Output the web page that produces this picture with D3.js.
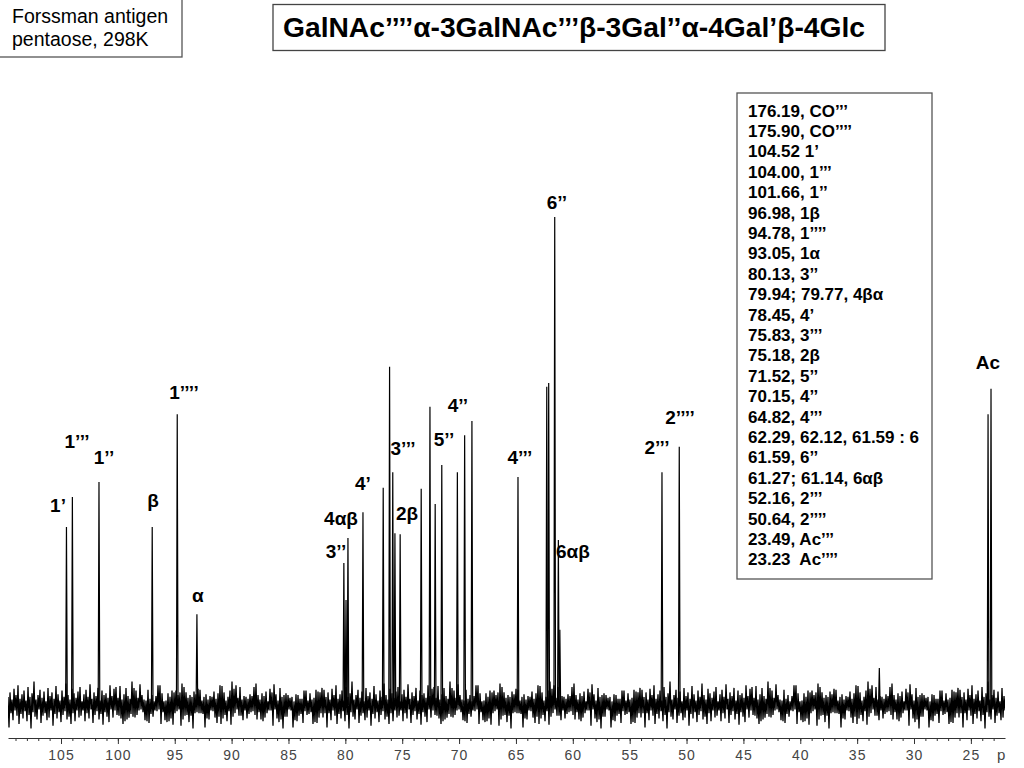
<!DOCTYPE html>
<html>
<head>
<meta charset="utf-8">
<script src="https://cdn.jsdelivr.net/npm/d3@7"></script>
<style>
  html, body { margin: 0; padding: 0; background: #fff; }
  svg { display: block; }
  text { font-family: "Liberation Sans", Arial, sans-serif; }
</style>
</head>
<body>
<svg id="chart" width="1024" height="768"></svg>
<script>
// peak positions (ppm) and heights (relative, tallest = 100)
const peakPpm = [
  104.52, 104.0, 101.66, 96.98, 94.78, 93.05,
  80.13, 79.94, 79.77, 78.45, 76.67, 76.11, 75.83, 75.64, 75.18,
  73.33, 72.56, 72.1, 71.52, 70.15, 69.51, 68.87,
  64.82, 62.29, 62.12, 61.59, 61.27, 61.14,
  52.16, 50.64, 33.05, 23.49, 23.23
];
const peakHeight = [
  36.5, 42.6, 45.7, 36.5, 59.6, 18.6,
  29.1, 21.5, 34.2, 39.5, 44.5, 69.3, 47.7, 35.2, 35.0,
  44.3, 61.1, 41.2, 49.2, 47.7, 55.3, 58.2,
  46.7, 65.2, 66.0, 100, 33.8, 15.4,
  47.7, 52.9, 7.6, 59.6, 64.8
];

// peak annotations: text, ppm, height of label centre
const peakLabels = ["1’", "1’’’", "1’’", "β", "1’’’’", "α", "3’’", "4αβ", "4’", "3’’’",
  "2β", "5’’", "4’’", "4’’’", "6’’", "6αβ", "2’’’", "2’’’’", "Ac"];
const labelPpm = [105.26, 103.59, 101.22, 96.91, 94.19, 92.96, 80.82, 80.38, 78.45, 74.93,
  74.58, 71.33, 70.1, 64.65, 61.4, 59.99, 52.6, 50.58, 23.51];
const labelHeight = [41.0, 54.1, 50.8, 42.0, 64.1, 22.5, 31.4, 38.3, 45.5, 52.5,
  39.3, 54.5, 61.5, 50.8, 103.1, 31.4, 52.7, 59.0, 70.3];

// assignment list in the box
const shiftList = [
  "176.19, CO’’’", "175.90, CO’’’’", "104.52 1’", "104.00, 1’’’", "101.66, 1’’",
  "96.98, 1β", "94.78, 1’’’’", "93.05, 1α", "80.13, 3’’", "79.94; 79.77, 4βα",
  "78.45, 4’", "75.83, 3’’’", "75.18, 2β", "71.52, 5’’", "70.15, 4’’", "64.82, 4’’’",
  "62.29, 62.12, 61.59 : 6", "61.59, 6’’", "61.27; 61.14, 6αβ", "52.16, 2’’’",
  "50.64, 2’’’’", "23.49, Ac’’’", "23.23  Ac’’’’"
];

const majorTicks = d3.range(25, 110, 5);
const minorTicks = d3.range(23, 110, 1);

const titleText = "GalNAc’’’’α-3GalNAc’’’β-3Gal’’α-4Gal’β-4Glc";
const sampleLines = ["Forssman antigen", "pentaose, 298K"];

const svg = d3.select("#chart");

const x = d3.scaleLinear().domain([109.66, 22.0]).range([8, 1005]);
const y = d3.scaleLinear().domain([0, 100]).range([705, 217]);

// baseline noise: texture tile of a jagged trace
const up = [9,14,6,18,11,22,7,12,16,5,20,9,13,26,6,11,17,8,15,4,19,10,14,7,21,12,5,16,9,24,11,6,18,13,8,15,20,4,12,17,9,23,7,14,10,19,5,16,11,13,8,22,10];
const dn = [12,6,18,9,15,5,20,11,7,16,10,22,8,13,19,5,14,25,9,17,6,12,21,10,15,7,18,11,26,8,13,16,5,20,12,9,17,14,6,23,10,15,8,19,11,7,16,13,21,9,18,6,14];
const tileH = 70, mid = 35;
const n = up.length;
// three shuffled passes over the same tile values so the repeat is long
const order = [];
[[1, 0], [7, 3], [19, 5]].forEach(([a, b]) => {
  for (let i = 0; i < n; i++) order.push((i * a + b) % n);
});
const tilePts = [];
order.forEach((k, i) => {
  tilePts.push([2 * i, mid - up[k] * 0.9]);
  tilePts.push([2 * i + 1, mid + dn[(k + 17) % n] * 0.9]);
});
tilePts.push([tilePts.length, mid - up[order[0]] * 0.9]);
const pat = svg.append("defs").append("pattern")
  .attr("id", "noise")
  .attr("patternUnits", "userSpaceOnUse")
  .attr("x", 8).attr("y", y(0) - mid)
  .attr("width", tilePts.length - 1).attr("height", tileH);
pat.append("path")
  .attr("d", d3.line()(tilePts))
  .attr("fill", "none")
  .attr("stroke", "#000")
  .attr("stroke-width", 1.3);

svg.append("rect")
  .attr("x", x(109.66)).attr("y", y(0) - mid)
  .attr("width", x(22.0) - x(109.66)).attr("height", tileH)
  .attr("fill", "url(#noise)");

// peaks
const peakLine = d3.line().x(d => x(d[0])).y(d => y(d[1]));
svg.append("g")
  .selectAll("path")
  .data(peakPpm.map((p, i) => ({ p, h: peakHeight[i] })))
  .join("path")
  .attr("d", d => peakLine([[d.p + 0.07, 0], [d.p, d.h], [d.p - 0.07, 0]]))
  .attr("fill", "none")
  .attr("stroke", "#000")
  .attr("stroke-width", 1.2);

// peak labels
svg.append("g")
  .selectAll("text")
  .data(peakLabels)
  .join("text")
  .attr("x", (d, i) => x(labelPpm[i]))
  .attr("y", (d, i) => y(labelHeight[i]))
  .attr("dy", "0.35em")
  .attr("text-anchor", "middle")
  .attr("font-size", 19)
  .attr("font-weight", "bold")
  .text(d => d);

// axis
const axisY = 738;
const gMinor = svg.append("g")
  .attr("transform", `translate(0,${axisY})`)
  .call(d3.axisBottom(x).tickValues(minorTicks).tickSize(3).tickSizeOuter(0).tickFormat(""));
gMinor.select(".domain").remove();
const gAxis = svg.append("g")
  .attr("transform", `translate(0,${axisY})`)
  .call(d3.axisBottom(x).tickValues(majorTicks).tickSize(6).tickSizeOuter(0).tickPadding(6).tickFormat(d3.format("d")));
svg.selectAll(".tick line").attr("stroke", "#333");
gAxis.select(".domain").attr("stroke", "#333").attr("stroke-width", 1.2);
gAxis.selectAll("text")
  .attr("font-family", "'DejaVu Sans Mono', monospace")
  .attr("font-size", 14)
  .attr("letter-spacing", 1)
  .attr("fill", "#444");
svg.append("text")
  .attr("x", 997).attr("y", 760)
  .attr("font-family", "'Liberation Mono', monospace")
  .attr("font-size", 15)
  .attr("fill", "#444")
  .text("p");

// sample box
svg.append("rect")
  .attr("x", -1).attr("y", -1).attr("width", 183).attr("height", 58)
  .attr("fill", "none").attr("stroke", "#555").attr("stroke-width", 1.3);
svg.append("g").selectAll("text")
  .data(sampleLines)
  .join("text")
  .attr("x", 12)
  .attr("y", (d, i) => 23 + i * 23)
  .attr("font-size", 19.5)
  .text(d => d);

// title box
svg.append("rect")
  .attr("x", 273).attr("y", 4.5).attr("width", 612).attr("height", 46)
  .attr("fill", "none").attr("stroke", "#444").attr("stroke-width", 1.3);
svg.append("text")
  .attr("x", 283).attr("y", 37)
  .attr("font-size", 27.5)
  .attr("font-weight", "bold")
  .attr("textLength", 582)
  .attr("lengthAdjust", "spacingAndGlyphs")
  .text(titleText);

// shift list box
const listTop = 110.7, listStep = 20.4;
svg.append("rect")
  .attr("x", 737).attr("y", 93).attr("width", 195).attr("height", 486)
  .attr("fill", "none").attr("stroke", "#555").attr("stroke-width", 1.3);
svg.append("g").selectAll("text")
  .data(shiftList)
  .join("text")
  .attr("x", 748)
  .attr("y", (d, i) => listTop + i * listStep)
  .attr("dy", "0.35em")
  .attr("font-size", 17)
  .attr("font-weight", "bold")
  .style("white-space", "pre")
  .text(d => d);
</script>
</body>
</html>
